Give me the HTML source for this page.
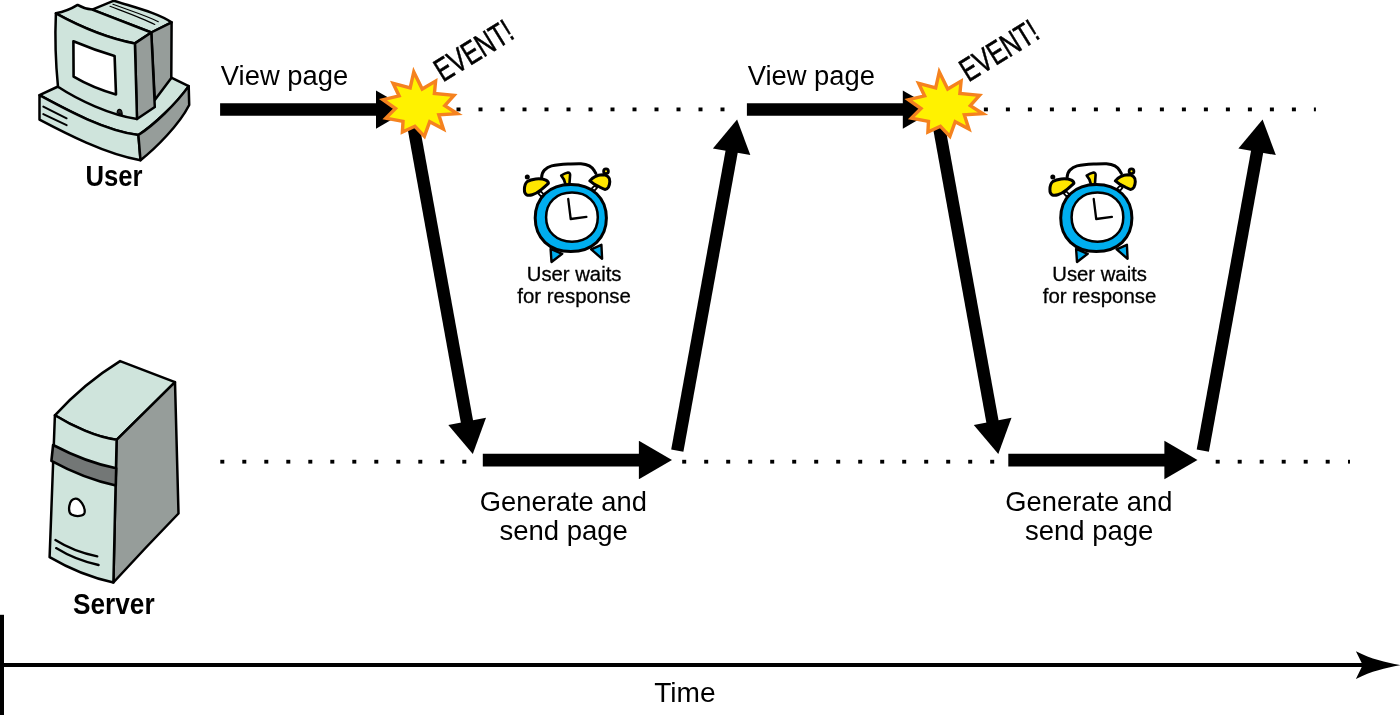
<!DOCTYPE html>
<html lang="en">
<head>
<meta charset="utf-8">
<title>Traditional web request timeline</title>
<style>
html,body{margin:0;padding:0;background:#fff;}
body{width:1400px;height:715px;overflow:hidden;}
svg{display:block;will-change:transform;}
</style>
</head>
<body>
<svg width="1400" height="715" viewBox="0 0 1400 715"
     font-family="'Liberation Sans', sans-serif" fill="#000">
<rect width="1400" height="715" fill="#fff"/>

<!-- dotted lines -->
<g fill="#000">
<rect x="456.5" y="107.5" width="4" height="3.8"/><rect x="478.5" y="107.5" width="4" height="3.8"/><rect x="500.5" y="107.5" width="4" height="3.8"/><rect x="522.5" y="107.5" width="4" height="3.8"/><rect x="544.5" y="107.5" width="4" height="3.8"/><rect x="566.5" y="107.5" width="4" height="3.8"/><rect x="588.5" y="107.5" width="4" height="3.8"/><rect x="610.5" y="107.5" width="4" height="3.8"/><rect x="632.5" y="107.5" width="4" height="3.8"/><rect x="654.5" y="107.5" width="4" height="3.8"/><rect x="676.5" y="107.5" width="4" height="3.8"/><rect x="698.5" y="107.5" width="4" height="3.8"/><rect x="720.5" y="107.5" width="4" height="3.8"/>
<rect x="983.9" y="107.5" width="4" height="3.8"/><rect x="1005.9" y="107.5" width="4" height="3.8"/><rect x="1027.9" y="107.5" width="4" height="3.8"/><rect x="1049.9" y="107.5" width="4" height="3.8"/><rect x="1071.9" y="107.5" width="4" height="3.8"/><rect x="1093.9" y="107.5" width="4" height="3.8"/><rect x="1115.9" y="107.5" width="4" height="3.8"/><rect x="1137.9" y="107.5" width="4" height="3.8"/><rect x="1159.9" y="107.5" width="4" height="3.8"/><rect x="1181.9" y="107.5" width="4" height="3.8"/><rect x="1203.9" y="107.5" width="4" height="3.8"/><rect x="1225.9" y="107.5" width="4" height="3.8"/><rect x="1247.9" y="107.5" width="4" height="3.8"/><rect x="1269.9" y="107.5" width="4" height="3.8"/><rect x="1291.9" y="107.5" width="4" height="3.8"/><rect x="1313.9" y="107.5" width="2" height="3.8"/>
<rect x="220.3" y="459.8" width="4" height="3.8"/><rect x="242.3" y="459.8" width="4" height="3.8"/><rect x="264.3" y="459.8" width="4" height="3.8"/><rect x="286.3" y="459.8" width="4" height="3.8"/><rect x="308.3" y="459.8" width="4" height="3.8"/><rect x="330.3" y="459.8" width="4" height="3.8"/><rect x="352.3" y="459.8" width="4" height="3.8"/><rect x="374.3" y="459.8" width="4" height="3.8"/><rect x="396.3" y="459.8" width="4" height="3.8"/><rect x="418.3" y="459.8" width="4" height="3.8"/><rect x="440.3" y="459.8" width="4" height="3.8"/><rect x="462.3" y="459.8" width="4" height="3.8"/>
<rect x="682.2" y="459.8" width="4" height="3.8"/><rect x="704.2" y="459.8" width="4" height="3.8"/><rect x="726.2" y="459.8" width="4" height="3.8"/><rect x="748.2" y="459.8" width="4" height="3.8"/><rect x="770.2" y="459.8" width="4" height="3.8"/><rect x="792.2" y="459.8" width="4" height="3.8"/><rect x="814.2" y="459.8" width="4" height="3.8"/><rect x="836.2" y="459.8" width="4" height="3.8"/><rect x="858.2" y="459.8" width="4" height="3.8"/><rect x="880.2" y="459.8" width="4" height="3.8"/><rect x="902.2" y="459.8" width="4" height="3.8"/><rect x="924.2" y="459.8" width="4" height="3.8"/><rect x="946.2" y="459.8" width="4" height="3.8"/><rect x="968.2" y="459.8" width="4" height="3.8"/><rect x="990.2" y="459.8" width="4" height="3.8"/>
<rect x="1215.7" y="459.8" width="4" height="3.8"/><rect x="1237.7" y="459.8" width="4" height="3.8"/><rect x="1259.7" y="459.8" width="4" height="3.8"/><rect x="1281.7" y="459.8" width="4" height="3.8"/><rect x="1303.7" y="459.8" width="4" height="3.8"/><rect x="1325.7" y="459.8" width="4" height="3.8"/><rect x="1348.0" y="459.8" width="2" height="3.8"/>
</g>

<!-- user computer -->
<g stroke="#000" stroke-width="2.5" stroke-linejoin="round" stroke-linecap="round">
  <!-- base top -->
  <path d="M39.5,95.2 L57,87 L171.3,77.7 L188.7,86.1 C176,104 154,125 138.4,135 C105,131 65,109 39.5,95.2 Z" fill="#cfe4dc"/>
  <!-- base front -->
  <path d="M39.5,95.2 C65,109 105,131 138.4,135 L140.5,160.2 C105,154 65,133 39.5,119.6 Z" fill="#cfe4dc"/>
  <!-- base right -->
  <path d="M138.4,135 C154,125 176,104 188.7,86.1 L189.2,105 C179,125 156,148 140.5,160.2 Z" fill="#969d9a"/>
  <path d="M43.3,106.6 L66.6,118.3 M43.3,114.1 L66.6,125.2" fill="none" stroke-width="2"/>
  <!-- back part -->
  <path d="M92.2,9.6 L113.9,0.7 C135,7.5 158,13 171.6,22.4 L151.3,32.5 Z" fill="#cfe4dc"/>
  <path d="M151.3,32.5 L171.6,22.4 L171.3,78 L154.8,100 Z" fill="#969d9a"/>
  <path d="M112.9,4.2 C128,10 145,15 158.3,21.7 M110,6.3 C125,12 142,18 154.8,24.5" fill="none" stroke-width="1.1"/>
  <!-- monitor bezel top -->
  <path d="M55.9,13.3 C63,12 71,9 77.6,4.9 C82,7.5 87,9 92.2,9.6 L151.3,32.5 L134.9,43.4 C109,38.5 79,26 55.9,13.3 Z" fill="#cfe4dc"/>
  <!-- bezel side -->
  <path d="M134.9,43.4 L151.3,32.5 L154.8,107 L137,119 Z" fill="#969d9a"/>
  <!-- front face -->
  <path d="M55.9,13.3 C79,26 109,38.5 134.9,43.4 L137,119 C110,115 78,100 58,86.8 Q54.3,50 55.9,13.3 Z" fill="#cfe4dc"/>
  <!-- screen -->
  <path d="M73.4,41.3 Q94,50 114.6,55.9 L116,94.4 Q93,88 73.6,76.6 Z" fill="#fff" stroke-width="2.6"/>
  <!-- button -->
  <path d="M117.2,112.8 C117,108 122.2,108 122.2,114.6 Z" fill="#222" stroke-width="1.2"/>
</g>
<text transform="translate(85.46,185.7) scale(0.8712,1)" font-size="29.5" font-weight="bold">User</text>

<!-- server -->
<g stroke="#000" stroke-width="2.5" stroke-linejoin="round" stroke-linecap="round">
  <path d="M54.9,415.3 Q83.7,383.6 120.1,361.1 L175,382.1 L116.6,439.8 C97,437.5 72,426 54.9,415.3 Z" fill="#cfe4dc"/>
  <path d="M116.6,439.8 L175,382.1 L178.5,513.5 Q146,547 113.4,582.5 Z" fill="#969d9a"/>
  <path d="M54.9,415.3 C72,426 97,437.5 116.6,439.8 L113.4,582.5 C92,578 68,568 49.6,557.2 Z" fill="#cfe4dc"/>
  <path d="M53.1,445 C72,455 95,464 116.2,468.3 L115.8,485.4 C93,480.5 70,471 51.4,460.8 Z" fill="#737776" stroke-width="2.6"/>
  <path d="M75.5,498.6 C80,498.5 85.5,507 84.6,512.5 C83.8,516.5 76,517 71.5,514.5 C67.5,512 68.5,499 75.5,498.6 Z" fill="#fff" stroke-width="2.3"/>
  <path d="M55.4,540 C68,548 83,553.5 97.3,556.3 M56.1,548.1 C68,555.5 84,562 98.6,565" fill="none" stroke-width="2.3"/>
</g>
<text transform="translate(73.05,614.2) scale(0.8884,1)" font-size="29.5" font-weight="bold">Server</text>


<g transform="translate(0,0)">
  <!-- view page arrow -->
  <g transform="translate(0,0)">
  <text transform="translate(220.86,85) scale(0.9778,1)" font-size="28">View page</text>
  <path d="M220.1,109.5 H380" stroke="#000" stroke-width="12.5" fill="none"/>
  <path d="M376,90.5 L409,109.5 L376,128.7 Z" fill="#000"/>
  </g>
  <!-- down arrow -->
  <path d="M413.2,125 L467.3,423.4" stroke="#000" stroke-width="12.4" fill="none"/>
  <path d="M448.3,425 L486,417.8 L472.8,454 Z" fill="#000"/>
  <!-- star -->
  <path d="M413.8,71.9 L422.2,89.0 L435.6,81.1 L434.4,93.5 L454.0,95.4 L444.8,105.6 L457.5,113.7 L438.8,114.9 L443.4,129.0 L429.7,121.7 L424.4,136.3 L414.9,126.3 L402.4,132.1 L403.0,121.3 L385.9,118.1 L395.5,108.5 L383.0,99.7 L399.1,95.9 L393.1,83.3 L410.2,87.8 Z"
        fill="#fff200" stroke="#f5821f" stroke-width="3.4" stroke-linejoin="miter" stroke-miterlimit="20"/>
  <text transform="translate(442.96,82.6) rotate(-31.7) scale(0.724,1)" font-size="32.8" stroke="#000" stroke-width="0.5" vector-effect="non-scaling-stroke">EVENT!</text>
  <!-- server arrow -->
  <path d="M482.8,460.1 H642" stroke="#000" stroke-width="12.6" fill="none"/>
  <path d="M638.9,440.8 L672,460.1 L638.9,479.3 Z" fill="#000"/>
  <text transform="translate(479.86,510.9) scale(0.9756,1)" font-size="28">Generate and</text>
  <text transform="translate(499.40,540.2) scale(0.9833,1)" font-size="28">send page</text>
  <!-- up arrow -->
  <path d="M677.3,450.6 L732,149.75" stroke="#000" stroke-width="12.4" fill="none"/>
  <path d="M712.9,148.4 L750.3,155.1 L737.1,119.4 Z" fill="#000"/>
  <!-- clock -->
  <g stroke="#000" stroke-width="3" stroke-linejoin="round" stroke-linecap="round">
    <!-- handle -->
    <path d="M541.6,177.3 C542,173.5 543,171.5 544.4,170.1 C546.5,168 549,166.6 551.6,165.9 C557,164.7 563,164.3 568,164.1 C572,163.9 577,163.5 580.9,163.7 C584,163.9 587,164.6 589.4,165.9 C591.5,167.1 593.2,169 594.4,170.9 L595.9,173.4" fill="none" stroke-width="3"/>
    <!-- bell stems -->
    <path d="M538.2,193.3 L540.6,191.2 L544,194.6 L541.4,196.8 Z" fill="#fff" stroke-width="1.8"/>
    <path d="M594.6,185.6 L597.2,187.7 L594.4,190.9 L591.6,188.6 Z" fill="#fff" stroke-width="1.8"/>
    <!-- feet -->
    <path d="M550.6,249 L551.5,262 L562.2,253.8 Z" fill="#00aeef" stroke-width="2.4"/>
    <path d="M601.4,244.8 L602.1,258.8 L591.2,249.4 Z" fill="#00aeef" stroke-width="2.4"/>
    <!-- top knob -->
    <path d="M561.2,175.5 C563.5,174 566,173 568,172.6 C569.5,172.6 570.2,173.6 570.1,174.8 L569.4,184.5 L565.5,184.5 C565,181 563.5,178 561.2,175.5 Z" fill="#ffe600" stroke-width="2.6"/>
    <!-- body -->
    <path d="M535.2,218.1 C535.2,197.9 549.4,184.5 570.8,184.5 C592.2,184.5 606.4,197.9 606.4,218.1 C606.4,238.2 592.2,251.6 570.8,251.6 C549.4,251.6 535.2,238.2 535.2,218.1 Z" fill="#00aeef"/>
    <path d="M546.1,217.2 C546.1,202.4 556.4,192.6 572.0,192.6 C587.5,192.6 597.8,202.4 597.8,217.2 C597.8,231.9 587.5,241.7 572.0,241.7 C556.4,241.7 546.1,231.9 546.1,217.2 Z" fill="#fff" stroke-width="2.5"/>
    <!-- bells -->
    <path d="M524.4,189.4 C524.5,185 525.5,183 527.3,181.6 C531,179 540,177.5 545.9,180.1 C547.5,181 548.5,182.5 548.4,183.4 C546,185.5 544,187.5 541.6,189.4 C539,191.5 535,194 532.3,194.8 C530,195.5 528,195.5 526.6,194.8 C525,194 524.3,192 524.4,189.4 Z" fill="#ffe600"/>
    <path d="M589.8,180.9 C591.5,179 593,177.6 595.1,176.6 C597.5,175.4 600,174.9 602.3,174.8 C604.5,174.8 606.5,175.4 608,176.6 C609.3,177.8 609.9,179.5 609.8,181.6 C609.7,183.8 609.2,185.8 608.4,187.3 C607.6,188.6 606.5,189.3 605.1,189.4 C603.5,189.2 601.8,188.3 600.1,187.3 C598,186 595.8,185 593.7,183.7 Z" fill="#ffe600"/>
    <circle cx="527.3" cy="177.1" r="1.2" fill="#000" stroke-width="2.6"/>
    <circle cx="606" cy="171.2" r="2.4" fill="#ffe600" stroke-width="2.8"/>
    <!-- hands -->
    <path d="M568.2,198.9 L570.7,219 L586.4,216.8" fill="none" stroke-width="2.3"/>
  </g>
  <text transform="translate(526.78,281.2) scale(0.9800,1)" font-size="20.7" stroke="#000" stroke-width="0.3">User waits</text>
  <text transform="translate(517.19,302.9) scale(0.9890,1)" font-size="20.7" stroke="#000" stroke-width="0.3">for response</text>
</g>


<g transform="translate(525.5,0)">
  <!-- view page arrow -->
  <g transform="translate(1.3,0)">
  <text transform="translate(220.86,85) scale(0.9778,1)" font-size="28">View page</text>
  <path d="M220.1,109.5 H380" stroke="#000" stroke-width="12.5" fill="none"/>
  <path d="M376,90.5 L409,109.5 L376,128.7 Z" fill="#000"/>
  </g>
  <!-- down arrow -->
  <path d="M413.2,125 L467.3,423.4" stroke="#000" stroke-width="12.4" fill="none"/>
  <path d="M448.3,425 L486,417.8 L472.8,454 Z" fill="#000"/>
  <!-- star -->
  <path d="M413.8,71.9 L422.2,89.0 L435.6,81.1 L434.4,93.5 L454.0,95.4 L444.8,105.6 L457.5,113.7 L438.8,114.9 L443.4,129.0 L429.7,121.7 L424.4,136.3 L414.9,126.3 L402.4,132.1 L403.0,121.3 L385.9,118.1 L395.5,108.5 L383.0,99.7 L399.1,95.9 L393.1,83.3 L410.2,87.8 Z"
        fill="#fff200" stroke="#f5821f" stroke-width="3.4" stroke-linejoin="miter" stroke-miterlimit="20"/>
  <text transform="translate(442.96,82.6) rotate(-31.7) scale(0.724,1)" font-size="32.8" stroke="#000" stroke-width="0.5" vector-effect="non-scaling-stroke">EVENT!</text>
  <!-- server arrow -->
  <path d="M482.8,460.1 H642" stroke="#000" stroke-width="12.6" fill="none"/>
  <path d="M638.9,440.8 L672,460.1 L638.9,479.3 Z" fill="#000"/>
  <text transform="translate(479.86,510.9) scale(0.9756,1)" font-size="28">Generate and</text>
  <text transform="translate(499.40,540.2) scale(0.9833,1)" font-size="28">send page</text>
  <!-- up arrow -->
  <path d="M677.3,450.6 L732,149.75" stroke="#000" stroke-width="12.4" fill="none"/>
  <path d="M712.9,148.4 L750.3,155.1 L737.1,119.4 Z" fill="#000"/>
  <!-- clock -->
  <g stroke="#000" stroke-width="3" stroke-linejoin="round" stroke-linecap="round">
    <!-- handle -->
    <path d="M541.6,177.3 C542,173.5 543,171.5 544.4,170.1 C546.5,168 549,166.6 551.6,165.9 C557,164.7 563,164.3 568,164.1 C572,163.9 577,163.5 580.9,163.7 C584,163.9 587,164.6 589.4,165.9 C591.5,167.1 593.2,169 594.4,170.9 L595.9,173.4" fill="none" stroke-width="3"/>
    <!-- bell stems -->
    <path d="M538.2,193.3 L540.6,191.2 L544,194.6 L541.4,196.8 Z" fill="#fff" stroke-width="1.8"/>
    <path d="M594.6,185.6 L597.2,187.7 L594.4,190.9 L591.6,188.6 Z" fill="#fff" stroke-width="1.8"/>
    <!-- feet -->
    <path d="M550.6,249 L551.5,262 L562.2,253.8 Z" fill="#00aeef" stroke-width="2.4"/>
    <path d="M601.4,244.8 L602.1,258.8 L591.2,249.4 Z" fill="#00aeef" stroke-width="2.4"/>
    <!-- top knob -->
    <path d="M561.2,175.5 C563.5,174 566,173 568,172.6 C569.5,172.6 570.2,173.6 570.1,174.8 L569.4,184.5 L565.5,184.5 C565,181 563.5,178 561.2,175.5 Z" fill="#ffe600" stroke-width="2.6"/>
    <!-- body -->
    <path d="M535.2,218.1 C535.2,197.9 549.4,184.5 570.8,184.5 C592.2,184.5 606.4,197.9 606.4,218.1 C606.4,238.2 592.2,251.6 570.8,251.6 C549.4,251.6 535.2,238.2 535.2,218.1 Z" fill="#00aeef"/>
    <path d="M546.1,217.2 C546.1,202.4 556.4,192.6 572.0,192.6 C587.5,192.6 597.8,202.4 597.8,217.2 C597.8,231.9 587.5,241.7 572.0,241.7 C556.4,241.7 546.1,231.9 546.1,217.2 Z" fill="#fff" stroke-width="2.5"/>
    <!-- bells -->
    <path d="M524.4,189.4 C524.5,185 525.5,183 527.3,181.6 C531,179 540,177.5 545.9,180.1 C547.5,181 548.5,182.5 548.4,183.4 C546,185.5 544,187.5 541.6,189.4 C539,191.5 535,194 532.3,194.8 C530,195.5 528,195.5 526.6,194.8 C525,194 524.3,192 524.4,189.4 Z" fill="#ffe600"/>
    <path d="M589.8,180.9 C591.5,179 593,177.6 595.1,176.6 C597.5,175.4 600,174.9 602.3,174.8 C604.5,174.8 606.5,175.4 608,176.6 C609.3,177.8 609.9,179.5 609.8,181.6 C609.7,183.8 609.2,185.8 608.4,187.3 C607.6,188.6 606.5,189.3 605.1,189.4 C603.5,189.2 601.8,188.3 600.1,187.3 C598,186 595.8,185 593.7,183.7 Z" fill="#ffe600"/>
    <circle cx="527.3" cy="177.1" r="1.2" fill="#000" stroke-width="2.6"/>
    <circle cx="606" cy="171.2" r="2.4" fill="#ffe600" stroke-width="2.8"/>
    <!-- hands -->
    <path d="M568.2,198.9 L570.7,219 L586.4,216.8" fill="none" stroke-width="2.3"/>
  </g>
  <text transform="translate(526.78,281.2) scale(0.9800,1)" font-size="20.7" stroke="#000" stroke-width="0.3">User waits</text>
  <text transform="translate(517.19,302.9) scale(0.9890,1)" font-size="20.7" stroke="#000" stroke-width="0.3">for response</text>
</g>


<!-- timeline -->
<path d="M2,614.8 V715" stroke="#000" stroke-width="4" fill="none"/>
<path d="M0,665 H1366" stroke="#000" stroke-width="4.2" fill="none"/>
<path d="M1400.2,665.1 C1385,662.2 1372,659.4 1355.9,651.3 L1362.7,665.1 L1355.9,678.9 C1372,670.8 1385,668 1400.2,665.1 Z" fill="#000"/>
<text transform="translate(654.14,702.4) scale(1.0040,1)" font-size="28">Time</text>
</svg>
</body>
</html>
